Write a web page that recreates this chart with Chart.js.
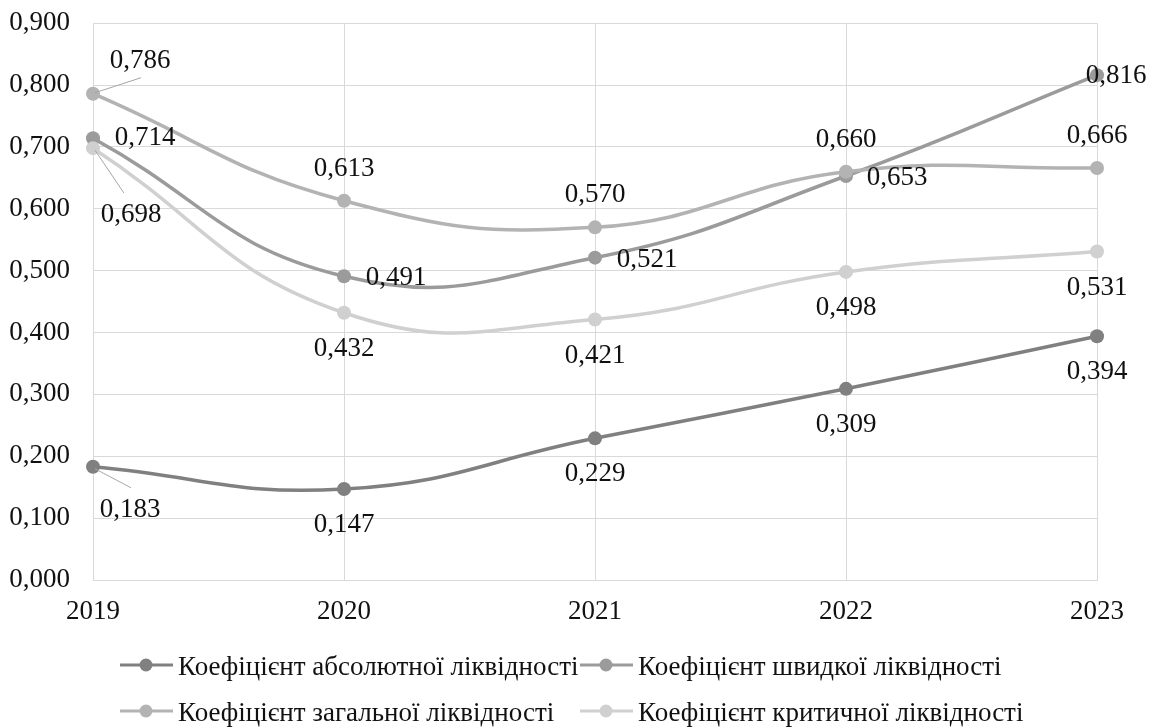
<!DOCTYPE html>
<html>
<head>
<meta charset="utf-8">
<script src="https://cdn.jsdelivr.net/npm/chart.js@4/dist/chart.umd.min.js"></script>
<style>
    html, body { margin: 0; padding: 0; background: #fff; }
    #wrap { width: 1157px; height: 727px; overflow: hidden; }
    #liquidityChart { display: block; margin-top: -16px; }
</style>
</head>
<body>
<div id="wrap"><canvas id="liquidityChart" width="1157" height="743"></canvas></div>
<script>
// Дані графіка
var years = ['2019', '2020', '2021', '2022', '2023'];
var seriesNames = [
    'Коефіцієнт абсолютної ліквідності',
    'Коефіцієнт швидкої ліквідності',
    'Коефіцієнт загальної ліквідності',
    'Коефіцієнт критичної ліквідності'
];
var absoluteRatio = [0.183, 0.147, 0.229, 0.309, 0.394];
var quickRatio = [0.714, 0.491, 0.521, 0.653, 0.816];
var currentRatio = [0.786, 0.613, 0.570, 0.660, 0.666];
var criticalRatio = [0.698, 0.432, 0.421, 0.498, 0.531];
var yTicks = [0, 0.1, 0.2, 0.3, 0.4, 0.5, 0.6, 0.7, 0.8, 0.9];

var colors = ['#808080', '#9b9b9b', '#b3b3b3', '#d0d0d0'];
var FONT = '"Liberation Serif", "Times New Roman", serif';
var FSIZE = 27;

function fmt(v) {
    return v.toFixed(3).replace('.', ',');
}

// Розташування підписів: [dx, dy, виноска]
var labelPos = [
    [[37, 43, true], [0, 36], [0, 36], [0, 36], [0, 36]],
    [[52, 0], [52, 2], [52, 2], [51, 2], [19, 1]],
    [[47, -33, true], [0, -32], [0, -32], [0, -32], [0, -32]],
    [[38, 67, true], [0, 36], [0, 36], [0, 36], [0, 36]]
];
var leaderEnd = [[[38, 21]], [], [[48, -16]], [[31, 45]]];

var labelsPlugin = {
    id: 'valueLabels',
    afterDatasetsDraw: function(chart) {
        var ctx = chart.ctx;
        ctx.save();
        ctx.font = FSIZE + 'px ' + FONT;
        ctx.fillStyle = '#111';
        ctx.textAlign = 'center';
        ctx.textBaseline = 'middle';
        chart.data.datasets.forEach(function(ds, i) {
            var meta = chart.getDatasetMeta(i);
            meta.data.forEach(function(pt, j) {
                var p = labelPos[i][j];
                if (p[2]) {
                    var e = leaderEnd[i][0];
                    ctx.strokeStyle = '#a6a6a6';
                    ctx.lineWidth = 1;
                    ctx.beginPath();
                    ctx.moveTo(pt.x + 2, pt.y + (e[1] > 0 ? 2 : -1));
                    ctx.lineTo(pt.x + e[0], pt.y + e[1]);
                    ctx.stroke();
                }
                ctx.fillText(fmt(ds.data[j]), pt.x + p[0], pt.y + p[1]);
            });
        });
        ctx.restore();
    }
};

// Легенда у дві колонки, під областю графіка
var legendPlugin = {
    id: 'gridLegend',
    afterDraw: function(chart) {
        var ctx = chart.ctx;
        var top = chart.chartArea.bottom;
        var cols = [120, 580];
        var rows = [top + 85, top + 131];
        ctx.save();
        ctx.font = FSIZE + 'px ' + FONT;
        ctx.textBaseline = 'middle';
        ctx.textAlign = 'left';
        chart.data.datasets.forEach(function(ds, i) {
            var x = cols[i % 2], y = rows[Math.floor(i / 2)];
            ctx.strokeStyle = ds.borderColor;
            ctx.lineWidth = 3;
            ctx.beginPath();
            ctx.moveTo(x, y);
            ctx.lineTo(x + 53, y);
            ctx.stroke();
            ctx.fillStyle = ds.borderColor;
            ctx.beginPath();
            ctx.arc(x + 26, y, 6.5, 0, Math.PI * 2);
            ctx.fill();
            ctx.fillStyle = '#111';
            ctx.fillText(ds.label, x + 58, y + 3);
        });
        ctx.restore();
    }
};

var dataSets = [absoluteRatio, quickRatio, currentRatio, criticalRatio].map(function(vals, i) {
    return {
        label: seriesNames[i],
        data: vals,
        borderColor: colors[i],
        backgroundColor: colors[i],
        pointBackgroundColor: colors[i],
        pointBorderWidth: 0,
        pointRadius: 7,
        borderWidth: 3.5,
        tension: 0.45,
        fill: false,
        order: 3 - i
    };
});

var ctx = document.getElementById('liquidityChart').getContext('2d');
var myChart = new Chart(ctx, {
    type: 'line',
    data: { labels: years, datasets: dataSets },
    plugins: [labelsPlugin, legendPlugin],
    options: {
        responsive: false,
        animation: false,
        layout: { padding: { left: 0, right: 60, top: 7, bottom: 0 } },
        plugins: {
            legend: { display: false },
            tooltip: { enabled: false }
        },
        scales: {
            x: {
                offset: false,
                grid: { color: '#d9d9d9', lineWidth: 1, drawTicks: false },
                border: { color: '#d9d9d9', width: 1 },
                ticks: {
                    color: '#111',
                    font: { family: FONT, size: FSIZE },
                    padding: 16,
                    maxRotation: 0
                },
                afterFit: function(scale) { scale.height = 147; }
            },
            y: {
                min: 0,
                max: 0.9,
                afterBuildTicks: function(scale) {
                    scale.ticks = yTicks.map(function(v) { return { value: v }; });
                },
                grid: { color: '#d9d9d9', lineWidth: 1, drawTicks: false },
                border: { color: '#d9d9d9', width: 1 },
                ticks: {
                    color: '#111',
                    font: { family: FONT, size: FSIZE },
                    padding: 23,
                    callback: function(v) { return fmt(v); }
                },
                afterFit: function(scale) { scale.width = 93; }
            }
        }
    }
});
</script>
</body>
</html>
